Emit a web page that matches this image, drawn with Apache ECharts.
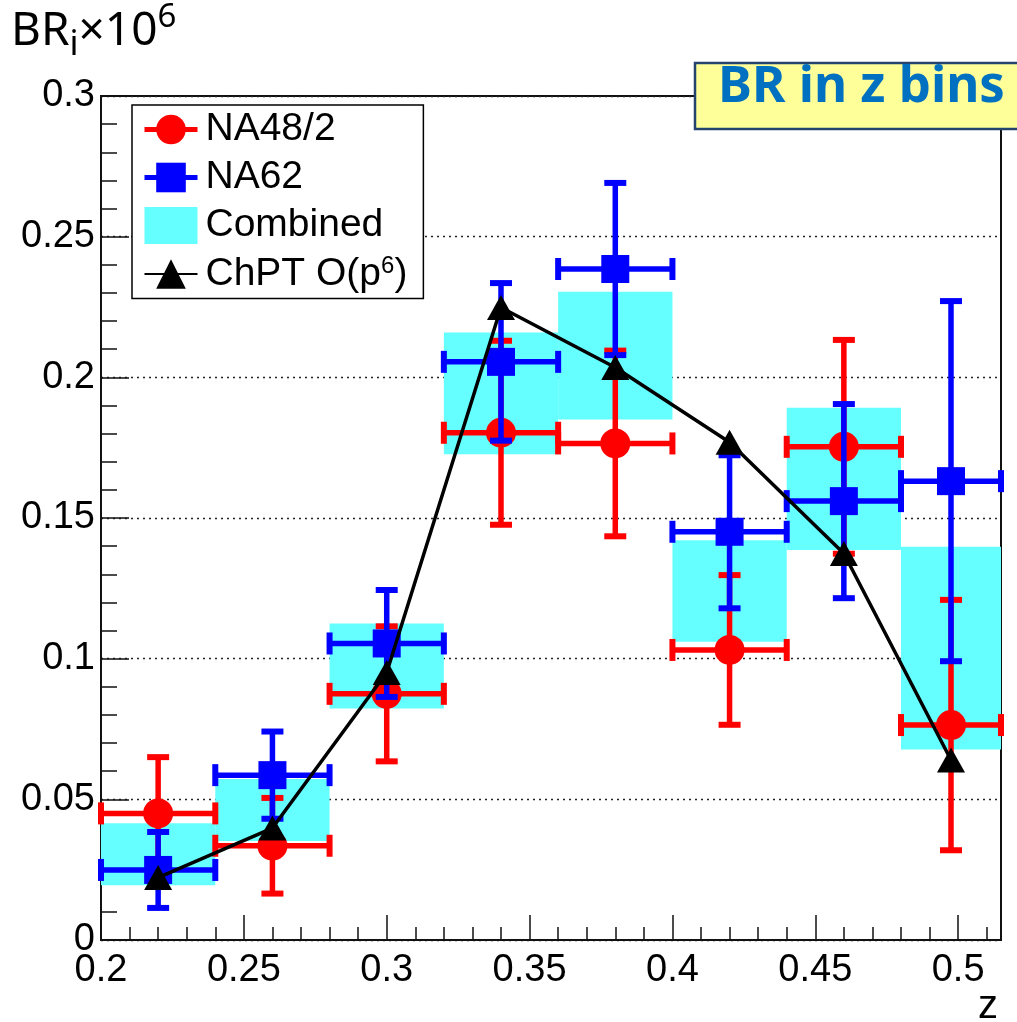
<!DOCTYPE html>
<html>
<head>
<meta charset="utf-8">
<script src="https://cdn.jsdelivr.net/npm/echarts@6/dist/echarts.min.js"></script>
<style>
html,body{margin:0;padding:0;background:#fff;overflow:hidden}
#chart{width:1017px;height:1022px}
</style>
</head>
<body>
<div id="chart"></div>
<script>
// ---- data ----
const binCenters = [0.22, 0.26, 0.30, 0.34, 0.38, 0.42, 0.46, 0.4975];
const binLow     = [0.20, 0.24, 0.28, 0.32, 0.36, 0.40, 0.44, 0.48];
const binHigh    = [0.24, 0.28, 0.32, 0.36, 0.40, 0.44, 0.48, 0.515];
const na48Values = [0.045, 0.0335, 0.0875, 0.1803, 0.1765, 0.1031, 0.1753, 0.0764];
const na48Errors = [0.020, 0.017, 0.024, 0.0327, 0.033, 0.0266, 0.038, 0.0445];
const na62Values = [0.0249, 0.0586, 0.1054, 0.2055, 0.2385, 0.1451, 0.156, 0.1631];
const na62Errors = [0.0135, 0.0155, 0.019, 0.028, 0.0306, 0.0272, 0.0345, 0.064];
const combinedLow  = [0.0195, 0.0352, 0.0823, 0.1727, 0.185, 0.106, 0.1386, 0.0677];
const combinedHigh = [0.0415, 0.0572, 0.1125, 0.2159, 0.2304, 0.1421, 0.1892, 0.1398];
const chptValues = [0.0222, 0.0398, 0.0951, 0.2248, 0.2035, 0.1769, 0.1374, 0.064];
const seriesNames = ['NA48/2', 'NA62', 'Combined', 'ChPT O(p6)'];

const RED = '#FF0000', BLUE = '#0000FF', CYAN = '#66FFFF';
const AXFONT = '"Liberation Sans", Arial, Helvetica, sans-serif';
const TFONT = '"Noto Sans", "Open Sans", sans-serif';

function errData(vals, errs) {
  return binCenters.map((x, i) => [x, vals[i], errs[i], binLow[i], binHigh[i]]);
}
function pointData(vals) {
  return binCenters.map((x, i) => [x, vals[i]]);
}
function makeErrorRender(color) {
  const barW = 5.5, capW = 6, capL = 22;
  return function (params, api) {
    const x = api.value(0), y = api.value(1), e = api.value(2), xl = api.value(3), xh = api.value(4);
    const c = api.coord([x, y]);
    const l = api.coord([xl, y]);
    const r = api.coord([xh, y]);
    const t = api.coord([x, y + e]);
    const b = api.coord([x, y - e]);
    const st = { fill: color };
    return {
      type: 'group',
      children: [
        { type: 'rect', shape: { x: l[0], y: c[1] - barW / 2, width: r[0] - l[0], height: barW }, style: st },
        { type: 'rect', shape: { x: c[0] - barW / 2, y: t[1], width: barW, height: b[1] - t[1] }, style: st },
        { type: 'rect', shape: { x: l[0] - capW / 2, y: c[1] - capL / 2, width: capW, height: capL }, style: st },
        { type: 'rect', shape: { x: r[0] - capW / 2, y: c[1] - capL / 2, width: capW, height: capL }, style: st },
        { type: 'rect', shape: { x: c[0] - capL / 2, y: t[1] - capW / 2, width: capL, height: capW }, style: st },
        { type: 'rect', shape: { x: c[0] - capL / 2, y: b[1] - capW / 2, width: capL, height: capW }, style: st }
      ]
    };
  };
}
function txt(text, x, y, size, family, color, align, weight) {
  return {
    type: 'text', z: 101, x: x, y: y,
    style: {
      text: text, fontSize: size, fontFamily: family, fontWeight: weight || 'normal', fill: color,
      textAlign: align, textVerticalAlign: 'middle', align: align, verticalAlign: 'middle'
    }
  };
}

const chart = echarts.init(document.getElementById('chart'), null, { renderer: 'canvas' });
const fmt = v => String(+(+v).toFixed(3));

const option = {
  animation: false,
  backgroundColor: '#fff',
  grid: { left: 101, right: 16, top: 96, bottom: 82, show: true, borderColor: '#111', borderWidth: 2, backgroundColor: 'transparent' },
  xAxis: [
    {
      type: 'value', min: 0.2, max: 0.515, interval: 0.05, position: 'bottom',
      axisLine: { show: true, lineStyle: { color: '#111', width: 2 } },
      axisTick: { show: true, inside: true, length: 25, lineStyle: { color: '#111', width: 1.5 } },
      minorTick: { show: false },
      splitLine: { show: false },
      axisLabel: { show: true, margin: 12, showMaxLabel: false, formatter: fmt, color: '#000', fontSize: 38, fontFamily: AXFONT }
    },
    {
      type: 'value', min: 0.2, max: 0.515, interval: 0.01, position: 'bottom',
      axisLine: { show: false },
      axisTick: { show: true, inside: true, length: 13, lineStyle: { color: '#111', width: 1.5 } },
      splitLine: { show: false },
      axisLabel: { show: false }
    }
  ],
  yAxis: [
    {
      type: 'value', min: 0, max: 0.3, interval: 0.05,
      axisLine: { show: true, lineStyle: { color: '#111', width: 2 } },
      axisTick: { show: true, inside: true, length: 28, lineStyle: { color: '#111', width: 1.5 } },
      minorTick: { show: true, splitNumber: 5, length: 16, lineStyle: { color: '#111', width: 1.5 } },
      splitLine: { show: true, lineStyle: { color: '#222', width: 1.4, type: [2, 4] } },
      axisLabel: { show: true, margin: 6, formatter: fmt, color: '#000', fontSize: 38, fontFamily: AXFONT }
    }
  ],
  legend: {
    orient: 'vertical', left: 132, top: 105, z: 10,
    padding: [5, 16, 5, 10],
    itemWidth: 53, itemHeight: 37, itemGap: 9,
    backgroundColor: '#fff', borderColor: '#000', borderWidth: 1.5,
    selectedMode: false,
    formatter: function (name) {
      if (name === 'ChPT O(p6)') return '{a|ChPT O(p}{s|6}{a|)}';
      return '{a|' + name + '}';
    },
    textStyle: {
      color: '#000', fontFamily: AXFONT, fontSize: 39, padding: [0, 0, 0, 3],
      rich: {
        a: { fontSize: 39, fontFamily: AXFONT, color: '#000', lineHeight: 40 },
        s: { fontSize: 24, fontFamily: AXFONT, color: '#000', lineHeight: 24, verticalAlign: 'top' }
      }
    },
    data: [
      { name: seriesNames[0], lineStyle: { color: RED, width: 5, opacity: 1 } },
      { name: seriesNames[1], lineStyle: { color: BLUE, width: 5, opacity: 1 } },
      { name: seriesNames[2], icon: 'rect' },
      { name: seriesNames[3] }
    ]
  },
  series: [
    {
      name: seriesNames[2], type: 'custom', z: 2, xAxisIndex: 0, yAxisIndex: 0,
      itemStyle: { color: CYAN },
      encode: { x: [0, 1], y: [2, 3] },
      data: binCenters.map((x, i) => [binLow[i], binHigh[i], combinedLow[i], combinedHigh[i]]),
      renderItem: function (params, api) {
        const p1 = api.coord([api.value(0), api.value(3)]);
        const p2 = api.coord([api.value(1), api.value(2)]);
        return { type: 'rect', shape: { x: p1[0], y: p1[1], width: p2[0] - p1[0], height: p2[1] - p1[1] }, style: { fill: CYAN } };
      }
    },
    {
      name: 'NA48/2 errors', type: 'custom', z: 3, xAxisIndex: 0, yAxisIndex: 0,
      encode: { x: [0, 3, 4], y: 1 },
      data: errData(na48Values, na48Errors),
      renderItem: makeErrorRender(RED)
    },
    {
      name: seriesNames[0], type: 'line', z: 4, xAxisIndex: 0, yAxisIndex: 0,
      symbol: 'circle', symbolSize: 30, showSymbol: true,
      itemStyle: { color: RED },
      lineStyle: { width: 0, opacity: 0 },
      data: pointData(na48Values)
    },
    {
      name: 'NA62 errors', type: 'custom', z: 5, xAxisIndex: 0, yAxisIndex: 0,
      encode: { x: [0, 3, 4], y: 1 },
      data: errData(na62Values, na62Errors),
      renderItem: makeErrorRender(BLUE)
    },
    {
      name: seriesNames[1], type: 'line', z: 6, xAxisIndex: 0, yAxisIndex: 0,
      symbol: 'rect', symbolSize: 28, showSymbol: true,
      itemStyle: { color: BLUE },
      lineStyle: { width: 0, opacity: 0 },
      data: pointData(na62Values)
    },
    {
      name: seriesNames[3], type: 'line', z: 7, xAxisIndex: 0, yAxisIndex: 0,
      symbol: 'triangle', symbolSize: [28, 25], showSymbol: true,
      itemStyle: { color: '#000' },
      lineStyle: { width: 3.5, color: '#000' },
      data: pointData(chptValues)
    }
  ],
  graphic: [
    {
      type: 'text', z: 101, x: 11, y: 1,
      style: {
        text: '{a|BR}{b|i}{a|×10}{c|6}',
        fill: '#000', textAlign: 'left', textVerticalAlign: 'top', align: 'left', verticalAlign: 'top',
        rich: {
          a: { fontSize: 46, fontFamily: TFONT, lineHeight: 62, fill: '#000', color: '#000' },
          b: { fontSize: 35, fontFamily: TFONT, lineHeight: 36, verticalAlign: 'bottom', fill: '#000', color: '#000' },
          c: { fontSize: 33, fontFamily: TFONT, lineHeight: 56, verticalAlign: 'top', fill: '#000', color: '#000' }
        }
      }
    },
    { type: 'rect', z: 100, shape: { x: 695, y: 63, width: 340, height: 66 }, style: { fill: '#FFFF99', stroke: '#24446F', lineWidth: 2.5 } },
    txt('BR in z bins', 718, 87, 51, TFONT, '#0070C0', 'left', 'bold'),
    txt('z', 998, 1007, 40, AXFONT, '#000', 'right')
  ]
};
chart.setOption(option);
</script>
</body>
</html>
